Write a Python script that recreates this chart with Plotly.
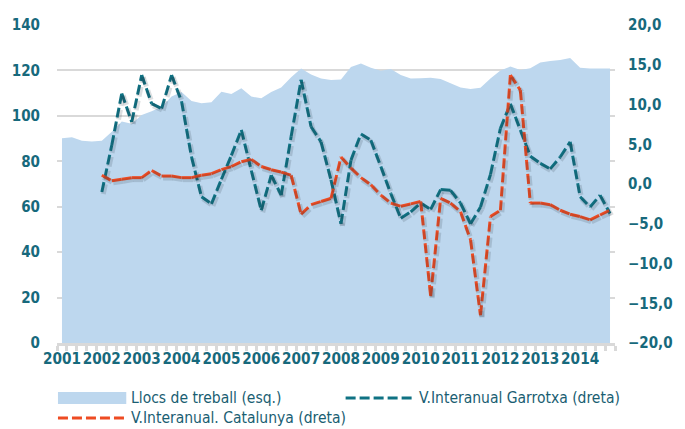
import plotly.graph_objects as go

# Quarterly series, 2001 Q1 .. 2014 Q4
years = list(range(2001, 2015))
n_quarters = 56

# Llocs de treball (index, left axis)
llocs = [90.1, 90.6, 89.0, 88.7, 89.0, 93.0, 97.5, 96.5, 100.4, 102.0,
         104.0, 108.5, 110.5, 106.5, 105.5, 106.0, 110.6, 109.6, 112.1, 108.5,
         107.7, 110.5, 112.5, 117.0, 120.8, 118.2, 116.5, 115.8, 116.0, 121.5,
         123.1, 121.2, 119.9, 120.6, 118.0, 116.5, 116.6, 116.8, 116.2, 114.5,
         112.5, 111.8, 112.4, 116.5, 120.0, 121.7, 120.2, 121.0, 123.5, 124.2,
         124.6, 125.5, 121.2, 120.9, 120.9, 120.9]

# Variació interanual (%), right axis; series start in 2002 Q1
garrotxa = [None, None, None, None,
            -1.0, 4.9, 11.4, 7.8, 13.7, 10.1, 9.5, 13.7, 10.4, 3.4,
            -1.6, -2.5, 0.6, 3.6, 6.8, 1.7, -3.3, 1.1, -1.4, 6.0,
            13.1, 7.2, 5.3, 0.5, -5.0, 3.0, 6.3, 5.5, 2.2, -1.2,
            -4.3, -3.5, -2.4, -3.2, -0.7, -0.8, -2.4, -5.0, -2.9, 1.2,
            7.0, 10.1, 6.8, 3.5, 2.6, 1.9, 3.4, 5.3, -1.6, -2.9,
            -1.4, -3.7]
catalunya = [None, None, None, None,
             1.1, 0.4, 0.6, 0.8, 0.8, 1.7, 1.0, 1.0, 0.8, 0.8,
             1.1, 1.3, 1.8, 2.2, 2.8, 3.1, 2.2, 1.8, 1.5, 1.1,
             -3.8, -2.6, -2.2, -1.8, 3.4, 2.0, 0.8, -0.1, -1.4, -2.4,
             -2.8, -2.5, -2.2, -14.1, -1.8, -2.4, -3.5, -7.0, -16.5, -4.1,
             -3.3, 13.7, 11.8, -2.4, -2.4, -2.6, -3.3, -3.8, -4.1, -4.5,
             -3.9, -3.3]

legend_labels = ["Llocs de treball (esq.)",
                 "V.Interanual Garrotxa (dreta)",
                 "V.Interanual. Catalunya (dreta)"]

AREA_COLOR = "#BDD7EE"
TEAL = "#0F7283"
ORANGE = "#EE4B22"
SHADOW = "rgba(40,50,60,0.16)"
TICK_COLOR = "#17697C"
LEGEND_COLOR = "#1A5E72"
GRID = "#D9D9D9"
DASH = "10px,4px"
FONT = "DejaVu Sans Condensed, Roboto, sans-serif"

W, H = 685, 429
ML, MR, MT, MB = 55, 50, 25, 86
PW, PH = W - ML - MR, H - MT - MB

X_RANGE = [-0.5, n_quarters - 0.5]
Y2_RANGE = [-20, 20]
SHADOW_DX, SHADOW_DY = 1.5, 2.0  # drop-shadow offset in pixels

x = list(range(n_quarters))
fig = go.Figure()

fig.add_trace(go.Scatter(
    x=x, y=llocs, mode="lines", fill="tozeroy",
    fillcolor=AREA_COLOR, line=dict(width=0, color=AREA_COLOR),
    hoverinfo="skip", showlegend=False, xaxis="x", yaxis="y"))


def add_dashed_series(values, color, width, xaxis, yaxis):
    # each segment restarts the dash pattern, so short flat steps look solid
    for i in range(len(values) - 1):
        a, b = values[i], values[i + 1]
        if a is None or b is None:
            continue
        fig.add_trace(go.Scatter(
            x=[x[i], x[i + 1]], y=[a, b], mode="lines",
            line=dict(color=color, width=width, dash=DASH),
            hoverinfo="skip", showlegend=False, xaxis=xaxis, yaxis=yaxis))


# soft shadows on offset axes, then the series themselves
add_dashed_series(garrotxa, SHADOW, 5, "x2", "y3")
add_dashed_series(garrotxa, TEAL, 3, "x", "y2")
add_dashed_series(catalunya, SHADOW, 5, "x2", "y3")
add_dashed_series(catalunya, ORANGE, 3, "x", "y2")


def px_to_paper(px, py):
    return (px - ML) / PW, (H - MB - py) / PH


shapes = []
annotations = []


def legend_entry(x0, x1, yc, kind, color, text):
    a = px_to_paper(x0, yc)
    b = px_to_paper(x1, yc)
    if kind == "rect":
        top = px_to_paper(x0, yc - 6)[1]
        bot = px_to_paper(x0, yc + 6)[1]
        shapes.append(dict(type="rect", xref="paper", yref="paper",
                           x0=a[0], x1=b[0], y0=bot, y1=top,
                           fillcolor=color, line=dict(width=0)))
    else:
        shapes.append(dict(type="line", xref="paper", yref="paper",
                           x0=a[0], x1=b[0], y0=a[1], y1=a[1],
                           line=dict(color=color, width=3, dash=DASH)))
    t = px_to_paper(x1 + 3, yc)
    annotations.append(dict(xref="paper", yref="paper", x=t[0], y=t[1],
                            xanchor="left", yanchor="middle", showarrow=False,
                            text=text,
                            font=dict(family=FONT, size=15.5,
                                      color=LEGEND_COLOR)))


legend_entry(56, 127, 398, "rect", AREA_COLOR, legend_labels[0])
legend_entry(355, 426, 398, "line", TEAL, legend_labels[1])
legend_entry(56, 127, 418, "line", ORANGE, legend_labels[2])

tick_font = dict(family=FONT, size=15, color=TICK_COLOR, weight="bold")
year_font = dict(family=FONT, size=15.2, color=TICK_COLOR, weight="bold")

kx = (X_RANGE[1] - X_RANGE[0]) / PW
ky = (Y2_RANGE[1] - Y2_RANGE[0]) / PH

fig.update_layout(
    width=W, height=H,
    margin=dict(l=ML, r=MR, t=MT, b=MB),
    paper_bgcolor="white", plot_bgcolor="white",
    separators=",.",
    showlegend=False,
    shapes=shapes, annotations=annotations,
    xaxis=dict(
        range=X_RANGE,
        tickmode="array",
        tickvals=[4 * k for k in range(len(years))],
        ticktext=[str(y) for y in years],
        tickangle=0,
        ticks="", showgrid=False, zeroline=False,
        showline=True, linecolor=GRID, linewidth=3,
        tickfont=year_font, ticklabelstandoff=0,
        minor=dict(tickmode="array",
                   tickvals=[i - 0.5 for i in range(n_quarters + 1)],
                   ticks="outside", ticklen=5, tickwidth=3, tickcolor=GRID,
                   showgrid=False),
    ),
    xaxis2=dict(
        range=[X_RANGE[0] - SHADOW_DX * kx, X_RANGE[1] - SHADOW_DX * kx],
        overlaying="x", visible=False,
    ),
    yaxis=dict(
        range=[0, 140], tickmode="array",
        tickvals=list(range(0, 141, 20)),
        showgrid=True, gridcolor=GRID, gridwidth=2, zeroline=False,
        showline=False, ticks="", tickfont=tick_font, ticklabelstandoff=16,
    ),
    yaxis2=dict(
        range=Y2_RANGE, tickmode="array",
        tickvals=list(range(-20, 21, 5)), tickformat=".1f",
        overlaying="y", side="right",
        showgrid=False, zeroline=False, showline=False, ticks="",
        tickfont=tick_font, ticklabelstandoff=12,
    ),
    yaxis3=dict(
        range=[Y2_RANGE[0] + SHADOW_DY * ky, Y2_RANGE[1] + SHADOW_DY * ky],
        overlaying="y", visible=False,
    ),
)

fig.write_html("out.html")
